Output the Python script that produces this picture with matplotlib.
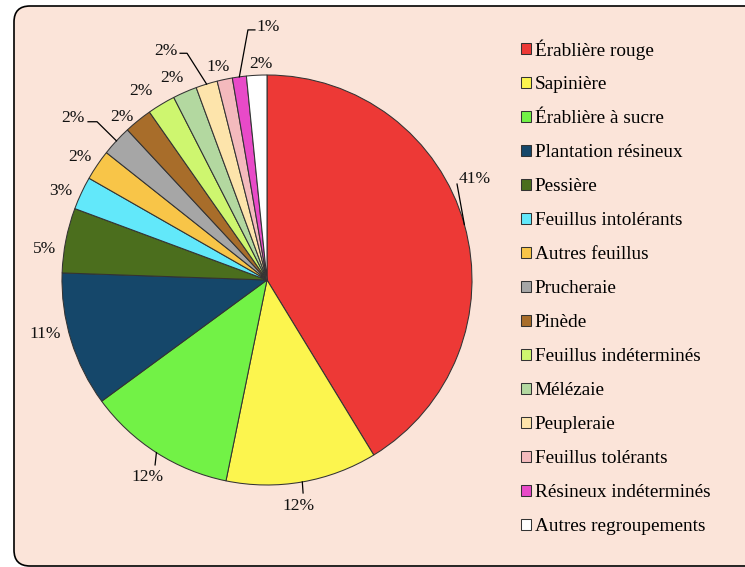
import numpy as np
import matplotlib.pyplot as plt
import matplotlib.patches as mpatches

plt.rcParams['font.family'] = ['Liberation Serif', 'DejaVu Serif']

# data
categories = ["Érablière rouge", "Sapinière", "Érablière à sucre", "Plantation résineux",
              "Pessière", "Feuillus intolérants", "Autres feuillus", "Prucheraie", "Pinède",
              "Feuillus indéterminés", "Mélézaie", "Peupleraie", "Feuillus tolérants",
              "Résineux indéterminés", "Autres regroupements"]
shares = [41.2, 11.9, 11.7, 10.6, 5.1, 2.6, 2.4, 2.4, 2.2, 2.2, 1.9, 1.7, 1.2, 1.1, 1.6]
colors = ["#ED3936", "#FCF54E", "#72F246", "#15476A", "#4B6E1D", "#62E8FA", "#F8C548",
          "#A6A6A6", "#A86D2A", "#CEF66F", "#B3D8A0", "#FDE4AB", "#F4BABD", "#E84AC8", "#FFFFFF"]

# label layout (data units, pie radius = 1)
label_pos = [(1.015, 0.493), (0.156, -1.100), (-0.583, -0.959), (-1.083, -0.261),
             (-1.083, 0.151), (-1.007, 0.432), (-0.912, 0.602), (-0.946, 0.790),
             (-0.710, 0.793), (-0.615, 0.924), (-0.466, 0.985), (-0.495, 1.117),
             (-0.237, 1.037), (0.007, 1.234), (-0.032, 1.056)]
# leader lines: index -> points after the wedge edge point
leaders = {0: [(0.927, 0.468)],
           1: [(0.176, -1.039)],
           2: [(-0.546, -0.902)],
           7: [(-0.829, 0.772), (-0.873, 0.772)],
           11: [(-0.390, 1.106), (-0.424, 1.106)],
           13: [(-0.093, 1.220), (-0.059, 1.220)]}

fig = plt.figure(figsize=(7.45, 5.67), dpi=100)
fig.patch.set_facecolor("white")

# rounded background panel
panel = mpatches.FancyBboxPatch((0.14, 0.01), 7.6, 5.60,
                                boxstyle="round,pad=0,rounding_size=0.16",
                                transform=fig.dpi_scale_trans,
                                facecolor="#FBE4D9", edgecolor="black", linewidth=1.2,
                                zorder=-5)
fig.patches.append(panel)

ax = fig.add_axes([62 / 745, 82 / 567, 410 / 745, 410 / 567])
ax.set_facecolor("none")
wedges, _ = ax.pie(shares, colors=colors, startangle=90, counterclock=False, radius=1,
                   wedgeprops=dict(edgecolor="#333333", linewidth=0.75))
ax.set_xlim(-1, 1)
ax.set_ylim(-1, 1)
ax.set_aspect("equal")
ax.axis("off")

total = sum(shares)
cum = np.cumsum([0] + shares[:-1]) / total
for i, v in enumerate(shares):
    mid = np.radians(90 - 360 * (cum[i] + v / total / 2))
    ex, ey = np.cos(mid), np.sin(mid)
    if i in leaders:
        pts = [(ex, ey)] + leaders[i]
        ax.plot([p[0] for p in pts], [p[1] for p in pts], color="black",
                linewidth=0.9, clip_on=False)
    lx, ly = label_pos[i]
    ax.text(lx, ly, f"{round(v / total * 100)}%", ha="center", va="center",
            fontsize=12.5, color="#111111")

fig.legend(wedges, categories, loc="upper left", bbox_to_anchor=(521 / 745, 1 - 39 / 567),
           frameon=False, fontsize=13.9, handlelength=0.52, handleheight=0.52,
           handletextpad=0.2, labelspacing=0.88, borderpad=0, borderaxespad=0)

fig.savefig("out.png", dpi=100, facecolor=fig.get_facecolor())
